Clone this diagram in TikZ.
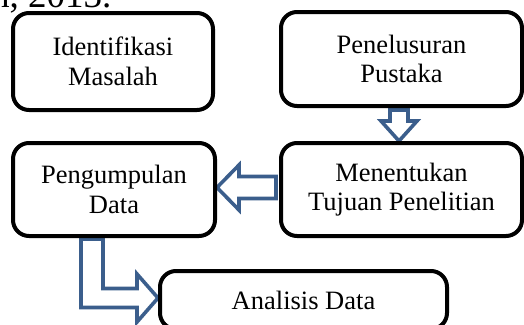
\documentclass[tikz,border=0pt]{standalone}
\usepackage{fontspec}
\setmainfont{Liberation Serif}
\usetikzlibrary{calc,backgrounds}
\definecolor{arrowblue}{RGB}{59,94,140}
\begin{document}
\begin{tikzpicture}[x=1pt,y=-1pt,
  stepbox/.style={draw=black, line width=4pt, rounded corners=16pt,
    align=center, inner sep=0pt, font=\fontsize{26.5}{29.5}\selectfont},
  blockarrow/.style={draw=arrowblue, fill=white, line width=3.6pt, line join=miter}]
\useasboundingbox (0,0) rectangle (524,324);
\clip (0,0) rectangle (524,324);

% tail of the preceding line of text
\node[anchor=base west, inner sep=0pt, font=\fontsize{37}{40}\selectfont] (cite) at (-9,7) {h, 2013.};

% process steps
\node[stepbox, minimum width=200pt, minimum height=97pt] (b1) at (113,61.5) {Identifikasi\\Masalah};
\node[stepbox, minimum width=241pt, minimum height=94pt] (b2) at (401.5,59) {Penelusuran\\Pustaka};
\node[stepbox, minimum width=241pt, minimum height=93pt] (b3) at (401.5,189.5) {Menentukan\\Tujuan Penelitian};
\node[stepbox, minimum width=202pt, minimum height=93pt] (b4) at (114,189.5) {Pengumpulan\\Data};
\node[stepbox, minimum width=287pt, minimum height=58pt] (b5) at (303.5,300) {Analisis Data};

% hollow block arrows between the steps
\begin{scope}[on background layer]
  % down: b2 -> b3
  \coordinate (d0) at ([xshift=-2.5pt,yshift=-2pt]b2.south);
  \coordinate (d1) at (d0 |- b3.north);
  \path[blockarrow] ($(d0)+(-9,0)$) -- ($(d1)+(-9,-20)$) -- ($(d1)+(-18,-20)$) -- (d1)
    -- ($(d1)+(18,-20)$) -- ($(d1)+(9,-20)$) -- ($(d0)+(9,0)$) -- cycle;
  % left: b3 -> b4
  \coordinate (l0) at ([xshift=-3pt,yshift=2pt]b3.west);
  \coordinate (l1) at (l0 -| b4.east);
  \path[blockarrow] ($(l0)+(0,-11)$) -- ($(l1)+(22,-11)$) -- ($(l1)+(22,-22.5)$) -- (l1)
    -- ($(l1)+(22,22.5)$) -- ($(l1)+(22,11)$) -- ($(l0)+(0,11)$) -- cycle;
  % bent: b4 -> b5
  \coordinate (ls) at ([xshift=-22pt,yshift=-1pt]b4.south);
  \coordinate (lt) at ([yshift=2pt]b5.west);
  \path[blockarrow] ($(ls)+(-11,0)$) -- ($(ls |- lt)+(-11,9.5)$) -- ($(lt)+(-21,9.5)$)
    -- ($(lt)+(-21,24)$) -- (lt) -- ($(lt)+(-21,-24)$) -- ($(lt)+(-21,-9.5)$)
    -- ($(ls |- lt)+(11,-9.5)$) -- ($(ls)+(11,0)$) -- cycle;
\end{scope}
\end{tikzpicture}
\end{document}
